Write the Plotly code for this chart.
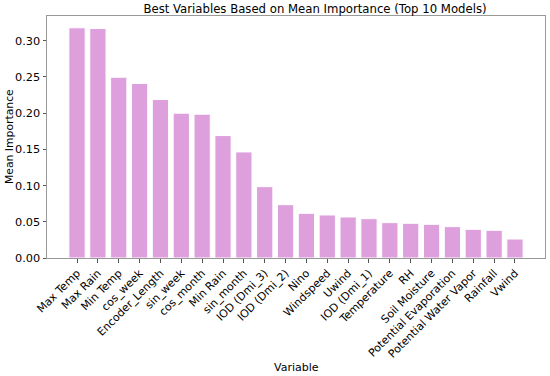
import plotly.graph_objects as go

variables = ["Max Temp", "Max Rain", "Min Temp", "cos_week", "Encoder_Length", "sin_week",
             "cos_month", "Min Rain", "sin_month", "IOD (Dmi_3)", "IOD (Dmi_2)", "Nino",
             "Windspeed", "Uwind", "IOD (Dmi_1)", "Temperature", "RH", "Soil Moisture",
             "Potential Evaporation", "Potential Water Vapor", "Rainfall", "Vwind"]
importance = [0.3177, 0.3167, 0.2495, 0.2408, 0.2187, 0.1999, 0.1985, 0.1690, 0.1464,
              0.0985, 0.0736, 0.0617, 0.0594, 0.0566, 0.0543, 0.0488, 0.0479, 0.0465,
              0.0433, 0.0396, 0.0382, 0.0262]
y_ticks = [0.00, 0.05, 0.10, 0.15, 0.20, 0.25, 0.30]

font = "DejaVu Sans"
W, H = 550, 376
L, R, T, B = 47, 5, 16, 118
n = len(variables)
fig = go.Figure(go.Bar(
    x=list(range(n)), y=importance, width=0.78,
    marker=dict(color="#DDA0DD", line=dict(color="white", width=1)),
))
fig.update_layout(
    width=W, height=H,
    margin=dict(l=L, r=R, t=T, b=B, autoexpand=False),
    paper_bgcolor="white", plot_bgcolor="white",
    showlegend=False,
    font=dict(family=font, color="black", size=11),
    title=dict(text="Best Variables Based on Mean Importance (Top 10 Models)",
               x=(132 + 460) / 2 / W, xref="paper", xanchor="center", y=1 - 8.5/H, yanchor="middle",
               font=dict(size=11.7, family=font)),
    annotations=[
        dict(text="Variable", xref="paper", yref="paper", x=0.5, y=-(367 - (H - B)) / (H - T - B),
             xanchor="center", yanchor="middle", showarrow=False, font=dict(size=11)),
        dict(text="Mean Importance", xref="paper", yref="paper", x=-(L - 9) / (W - L - R), y=0.5,
             xanchor="center", yanchor="middle", textangle=-90, showarrow=False, font=dict(size=10.8)),
    ],
)
fig.update_xaxes(
    range=[-1.44, n - 1 + 1.44], automargin=False,
    tickmode="array", tickvals=list(range(n)), ticktext=variables,
    tickangle=-45, ticks="outside", ticklen=3.5, tickcolor="#555",
    showline=True, linecolor="#999", linewidth=1, mirror=True,
    showgrid=False, zeroline=False,
    tickfont=dict(size=11),
)
fig.update_yaxes(
    range=[0, 0.334], automargin=False,
    tickmode="array", tickvals=y_ticks, ticktext=[f"{v:.2f}" for v in y_ticks],
    ticks="outside", ticklen=3.5, tickcolor="#555",
    showline=True, linecolor="#999", linewidth=1, mirror=True,
    showgrid=False, zeroline=False,
    tickfont=dict(size=11.3),
)
fig.write_html("out.html", config={"displayModeBar": False},
               post_script="document.body.style.margin='0';document.body.style.overflow='hidden';")
